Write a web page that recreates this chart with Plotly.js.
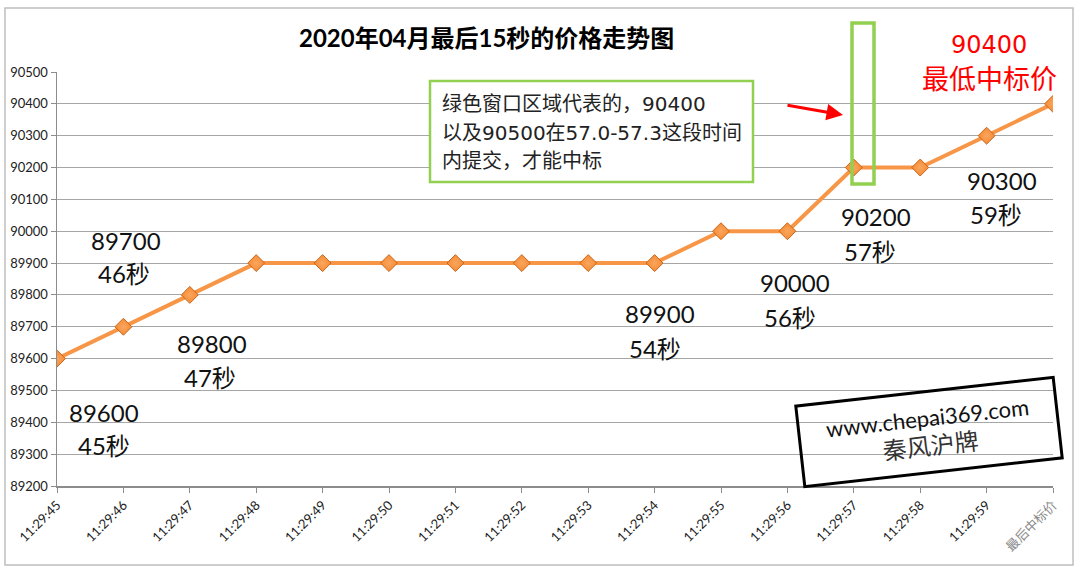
<!DOCTYPE html>
<html><head><meta charset="utf-8">
<script src="https://cdn.plot.ly/plotly-3.0.1.min.js"></script>
<style>body{margin:0;padding:0;background:#fff}#c{width:1080px;height:572px}</style>
</head><body><div id="c"></div>
<script>
const categories = ['11:29:45','11:29:46','11:29:47','11:29:48','11:29:49','11:29:50','11:29:51','11:29:52','11:29:53','11:29:54','11:29:55','11:29:56','11:29:57','11:29:58','11:29:59','最后中标价'];
const prices = [89600,89700,89800,89900,89900,89900,89900,89900,89900,89900,90000,90000,90200,90200,90300,90400];
const yTicks = [89200,89300,89400,89500,89600,89700,89800,89900,90000,90100,90200,90300,90400,90500];
const labelPrices = ['89700','89800','89600','89900','90000','90200','90300'];
const labelSeconds = ['46秒','47秒','45秒','54秒','56秒','57秒','59秒'];
const titleText = '2020年04月最后15秒的价格走势图';
const noteLines = ['绿色窗口区域代表的，90400','以及90500在57.0-57.3这段时间','内提交，才能中标'];
const lowestPrice = '90400';
const lowestLabel = '最低中标价';
const watermark = ['www.chepai369.com','秦风沪牌'];

const L=57, R=1053, T=72, B=486;
const X = px => (px-L)/(R-L);
const Y = py => (B-py)/(B-T);
const CJK = '"Noto Sans CJK SC", sans-serif';
const LAT = 'Lato, "Noto Sans CJK SC", sans-serif';
const VER = '"DejaVu Sans", "Noto Sans CJK SC", sans-serif';

const labelPos = [[126,240,124,273],[212,343,210,377],[104,412,104,445],[660,313,655,348],[795,282,790,317],[876,216,870,251],[1002,180,996,214]];
const ann = [];
labelPos.forEach((p,i)=>{
  ann.push({xref:'paper',yref:'paper',x:X(p[0]),y:Y(p[1]),text:labelPrices[i],showarrow:false,font:{family:LAT,size:24,color:'#111'},xanchor:'center',yanchor:'middle'});
  ann.push({xref:'paper',yref:'paper',x:X(p[2]),y:Y(p[3]),text:labelSeconds[i],showarrow:false,font:{family:LAT,size:24,color:'#111'},xanchor:'center',yanchor:'middle'});
});
ann.push({xref:'paper',yref:'paper',x:X(989),y:Y(45),text:lowestPrice,showarrow:false,font:{family:VER,size:24,color:'#ff0000'},xanchor:'center',yanchor:'middle'});
ann.push({xref:'paper',yref:'paper',x:X(989),y:Y(78),text:lowestLabel,showarrow:false,font:{family:CJK,size:27,color:'#ff0000'},xanchor:'center',yanchor:'middle'});
noteLines.forEach((t,i)=>{
  ann.push({xref:'paper',yref:'paper',x:X(440),y:Y(104+i*28.5),text:t,showarrow:false,font:{family:VER,size:20,color:'#222'},xanchor:'left',yanchor:'middle'});
});
// red arrow
ann.push({xref:'paper',yref:'paper',x:X(843),y:Y(115),ax:X(786),ay:Y(105),axref:'paper',ayref:'paper',text:'',showarrow:true,arrowhead:2,arrowsize:1.1,arrowwidth:3,arrowcolor:'#ff0000'});
// watermark
ann.push({xref:'paper',yref:'paper',x:X(929),y:Y(432),xanchor:'center',yanchor:'middle',
  text:watermark[0]+'<br><span style="font-size:24px;color:#333">'+watermark[1]+'</span>',showarrow:false,textangle:-6.4,
  font:{family:LAT,size:22,color:'#111'},bordercolor:'#000',borderwidth:3,borderpad:8,width:240,height:62,bgcolor:'rgba(255,255,255,0)'});
// title
ann.push({xref:'paper',yref:'paper',x:X(486),y:Y(37),text:'<b>'+titleText+'</b>',showarrow:false,font:{family:LAT,size:24,color:'#000'},xanchor:'center',yanchor:'middle'});

const shapes = [
  {type:'rect',xref:'paper',yref:'paper',x0:X(5),x1:X(1073),y0:Y(8),y1:Y(565),line:{color:'#bfbfbf',width:1.5},layer:'below'},
  {type:'rect',xref:'paper',yref:'paper',x0:X(430),x1:X(753),y0:Y(81),y1:Y(182),line:{color:'#92d050',width:2.5},fillcolor:'#fff',layer:'above'},
  {type:'rect',xref:'paper',yref:'paper',x0:X(852),x1:X(874),y0:Y(23),y1:Y(184),line:{color:'#92d050',width:3.5},fillcolor:'rgba(0,0,0,0)'}
];

const trace = {x:categories,y:prices,type:'scatter',mode:'lines+markers',
  line:{color:'#f79646',width:4},
  marker:{symbol:'diamond',size:13,color:'#f68b33',line:{color:'#c8651b',width:1},gradient:{type:'radial',color:'#f9a65f'}},
  hoverinfo:'none'};

const tickText = categories.map((c,i)=> i===categories.length-1 ? '<span style="color:#8a8a8a">'+c+'</span>' : c);

const layout = {width:1080,height:572,margin:{l:L,r:1080-R,t:T,b:572-B},
  paper_bgcolor:'#fff',plot_bgcolor:'#fff',showlegend:false,
  xaxis:{type:'category',range:[0,15],showgrid:false,showline:true,linecolor:'#8c8c8c',linewidth:1.5,
    tickmode:'array',tickvals:categories,ticktext:tickText,
    ticks:'outside',ticklen:5,tickcolor:'#8c8c8c',tickangle:-45,tickfont:{family:LAT,size:13,color:'#222'},zeroline:false},
  yaxis:{range:[89200,90500],tickmode:'array',tickvals:yTicks,ticktext:yTicks.map(String),showgrid:true,gridcolor:'#a6a6a6',gridwidth:1,showline:true,linecolor:'#8c8c8c',linewidth:1.5,
    ticks:'outside',ticklen:5,tickcolor:'#8c8c8c',tickfont:{family:LAT,size:13,color:'#222'},zeroline:false},
  annotations:ann,shapes:shapes};
Plotly.newPlot('c',[trace],layout,{staticPlot:true});
</script></body></html>
